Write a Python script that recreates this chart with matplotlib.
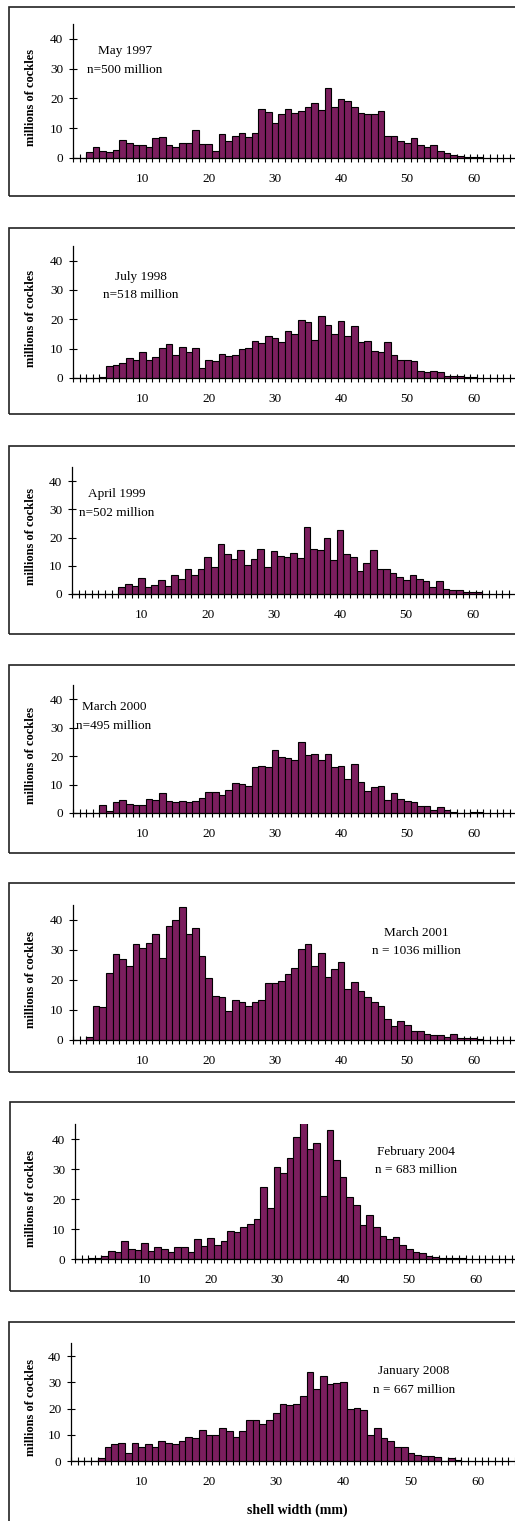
import matplotlib
matplotlib.use('Agg')
import matplotlib.pyplot as plt
from matplotlib.patches import Rectangle
import numpy as np

# ---------------- data (millions of cockles per 1 mm shell-width class, from 0 mm) -------------
may1997 = [0, 0, 2.0, 3.7, 2.5, 2.0, 2.8, 6.0, 5.1, 4.4, 4.4, 3.7, 6.7, 7.2, 4.4, 3.7, 5.1, 5.1,
           9.5, 4.8, 4.8, 2.5, 7.9, 5.6, 7.5, 8.3, 7.2, 8.3, 16.6, 15.4, 11.8, 14.7, 16.6, 15.1,
           15.9, 17.1, 18.5, 16.2, 23.5, 17.1, 19.8, 19.0, 17.1, 15.1, 14.7, 14.7, 15.9, 7.5, 7.5,
           5.6, 5.1, 6.7, 4.4, 3.7, 4.4, 2.5, 1.6, 1.0, 0.6, 0.5, 0.2, 0.5]
jul1998 = [0, 0, 0, 0, 0.5, 4.0, 4.4, 5.1, 6.7, 6.3, 8.7, 6.3, 7.0, 10.3, 11.6, 7.9, 10.6, 8.7,
           10.3, 3.5, 6.3, 5.9, 8.3, 7.5, 7.8, 9.9, 10.3, 12.7, 11.9, 14.3, 13.5, 12.2, 15.9, 15.1,
           19.8, 19.0, 13.0, 21.1, 17.9, 15.1, 19.5, 14.3, 17.6, 12.2, 12.7, 9.1, 8.7, 12.2, 7.8,
           6.3, 6.3, 5.9, 2.4, 1.9, 2.4, 1.9, 0.8, 0.8, 0.8, 0.5, 0.5]
apr1999 = [0, 0, 0, 0, 0, 0, 0, 2.5, 3.6, 2.9, 5.7, 2.5, 3.3, 4.9, 2.9, 6.6, 5.4, 8.7, 6.6, 8.7,
           13.1, 9.4, 17.8, 14.0, 12.3, 15.7, 10.3, 12.3, 16.1, 9.4, 15.2, 13.6, 13.1, 14.5, 12.8,
           23.6, 16.1, 15.7, 19.7, 12.0, 22.7, 14.0, 13.1, 8.2, 11.1, 15.7, 8.7, 9.0, 7.4, 6.2,
           4.9, 6.6, 5.4, 4.6, 2.5, 4.5, 1.8, 1.3, 1.3, 0.6, 0.8, 0.8]
mar2000 = [0, 0, 0, 0, 2.9, 0.8, 3.7, 4.6, 3.3, 2.9, 2.9, 4.9, 4.4, 6.9, 4.1, 3.7, 4.1, 3.7, 4.1,
           5.4, 7.4, 7.4, 6.5, 8.1, 10.5, 10.2, 9.4, 16.0, 16.4, 16.0, 22.1, 19.6, 19.3, 18.5,
           25.0, 20.5, 20.8, 18.8, 20.8, 16.0, 16.4, 11.9, 17.2, 11.0, 7.7, 9.0, 9.4, 4.4, 6.9,
           4.9, 4.1, 3.7, 2.5, 2.5, 1.2, 2.1, 1.2, 0.5, 0, 0, 0.3, 0.3]
mar2001 = [0, 0, 0.9, 11.3, 10.9, 22.4, 28.7, 27.0, 24.7, 31.9, 30.6, 32.2, 35.3, 27.4, 38.1,
           40.0, 44.3, 35.3, 37.3, 27.9, 20.8, 14.8, 14.4, 9.8, 13.2, 12.6, 11.2, 12.6, 13.2, 18.9,
           18.9, 19.7, 22.0, 23.9, 30.2, 32.1, 24.7, 29.0, 21.1, 23.6, 25.9, 16.9, 19.2, 16.4,
           14.4, 12.6, 11.2, 7.0, 4.6, 6.2, 5.0, 3.1, 3.1, 1.9, 1.6, 1.6, 0.9, 1.9, 0.6, 0.6, 0.6,
           0.5]
feb2004 = [0, 0, 0.3, 0.3, 1.0, 2.7, 2.2, 6.1, 3.4, 3.0, 5.4, 2.7, 3.9, 3.4, 2.2, 3.9, 3.9, 2.2,
           6.7, 4.3, 7.0, 4.6, 6.0, 9.4, 9.0, 10.6, 11.7, 13.2, 23.9, 16.9, 30.6, 28.6, 33.7, 40.7,
           46.0, 36.8, 38.8, 21.1, 43.1, 32.9, 27.3, 20.6, 17.9, 11.2, 14.8, 10.6, 7.8, 6.7, 7.3,
           4.6, 3.4, 2.2, 1.9, 1.0, 0.7, 0.5, 0.5, 0.5, 0.5]
jan2008 = [0, 0, 0, 0, 1.0, 5.5, 6.3, 6.9, 3.2, 6.9, 5.5, 6.3, 5.5, 7.7, 6.9, 6.3, 7.7, 9.0, 8.6,
           11.7, 10.0, 10.0, 12.7, 11.3, 9.0, 11.3, 15.7, 15.7, 14.3, 15.7, 18.4, 21.6, 21.2, 21.6,
           24.7, 34.1, 27.4, 32.4, 29.2, 29.7, 30.1, 19.9, 20.3, 19.4, 9.9, 12.7, 8.6, 7.7, 5.5,
           5.5, 3.2, 2.3, 1.8, 1.8, 1.4, 0, 1.0, 0.5]

series = [may1997, jul1998, apr1999, mar2000, mar2001, feb2004, jan2008]
dates = ["May 1997", "July 1998", "April 1999", "March 2000", "March 2001",
         "February 2004", "January 2008"]
counts = ["n=500 million", "n=518 million", "n=502 million", "n=495 million",
          "n = 1036 million", "n = 683 million", "n = 667 million"]
x_ticklabels = [10, 20, 30, 40, 50, 60]
y_ticklabels = [0, 10, 20, 30, 40]

# ---------------- layout (pixels) -------------
W, H = 515, 1521
# box_left, box_top, box_bottom, yaxis_x, zero_y, top_y, unit_px, text_x, text_y1, text_y2
layout = [
    (9, 7, 196, 73, 158, 24, 6.62, 125, 51, 70),
    (9, 228, 414, 73, 378, 246, 6.62, 141, 277, 295),
    (9, 446, 634, 72, 594, 467, 6.62, 117, 494, 513),
    (9, 665, 853, 73, 813, 685, 6.62, 114, 707, 726),
    (9, 883, 1072, 73, 1040, 905, 6.62, 416, 933, 951),
    (10, 1102, 1291, 75, 1259, 1124, 6.62, 416, 1152, 1170),
    (9, 1322, 1560, 71, 1461, 1343, 6.73, 414, 1371, 1390),
]

plt.rcParams['font.family'] = ['Liberation Serif', 'DejaVu Serif']
fig = plt.figure(figsize=(W / 100, H / 100), dpi=100)
fig.patch.set_facecolor('white')

XMIN, XMAX = -0.5, 69.5
bar_color = '#7b1e5e'

for i, (vals, date, cnt, lay) in enumerate(zip(series, dates, counts, layout)):
    bl, bt, bb, yx, zy, ty, u, tx, t1, t2 = lay
    # panel frame (extends beyond right edge, as in reference)
    fig.add_artist(Rectangle((bl / W, 1 - bb / H), (600 - bl) / W, (bb - bt) / H,
                             transform=fig.transFigure, fill=False,
                             edgecolor='#222222', linewidth=1.2))
    aw = (XMAX - XMIN) * u
    ax = fig.add_axes([yx / W, 1 - zy / H, aw / W, (zy - ty) / H])
    ax.set_facecolor('none')
    x = np.arange(len(vals))
    ax.bar(x, vals, width=1.0, color=bar_color, edgecolor='black', linewidth=0.8, zorder=2)
    ax.set_xlim(XMIN, XMAX)
    ax.set_ylim(0, 45)
    for s in ['top', 'right']:
        ax.spines[s].set_visible(False)
    ax.spines['left'].set_linewidth(0.9)
    ax.spines['bottom'].set_linewidth(0.9)
    ax.spines['left'].set_zorder(3)
    ax.spines['bottom'].set_zorder(3)
    ax.set_yticks(y_ticklabels)
    ax.set_yticklabels([str(v) for v in y_ticklabels])
    ax.tick_params(axis='y', direction='inout', length=6, width=0.8, pad=4, labelsize=9.5)
    ax.set_xticks(x_ticklabels)
    ax.set_xticklabels([str(v) for v in x_ticklabels])
    ax.set_xticks(np.arange(XMIN, XMAX + 0.01, 1.0), minor=True)
    ax.tick_params(axis='x', which='major', length=0, pad=11, labelsize=9.5)
    ax.tick_params(axis='x', which='minor', direction='inout', length=6, width=0.8)
    ax.set_ylabel('millions of cockles', fontsize=9, fontweight='bold')
    ax.yaxis.set_label_coords((37 - yx) / aw, 0.45)
    if i == len(series) - 1:
        ax.set_xlabel('shell width (mm)', fontsize=10, fontweight='bold')
        ax.xaxis.set_label_coords((297 - yx) / aw, -(1504 - zy) / (zy - ty))
    fig.text(tx / W, 1 - t1 / H, date, ha='center', va='center', fontsize=9.5)
    fig.text(tx / W, 1 - t2 / H, cnt, ha='center', va='center', fontsize=9.5)

fig.savefig('out.png', dpi=100, facecolor='white')
